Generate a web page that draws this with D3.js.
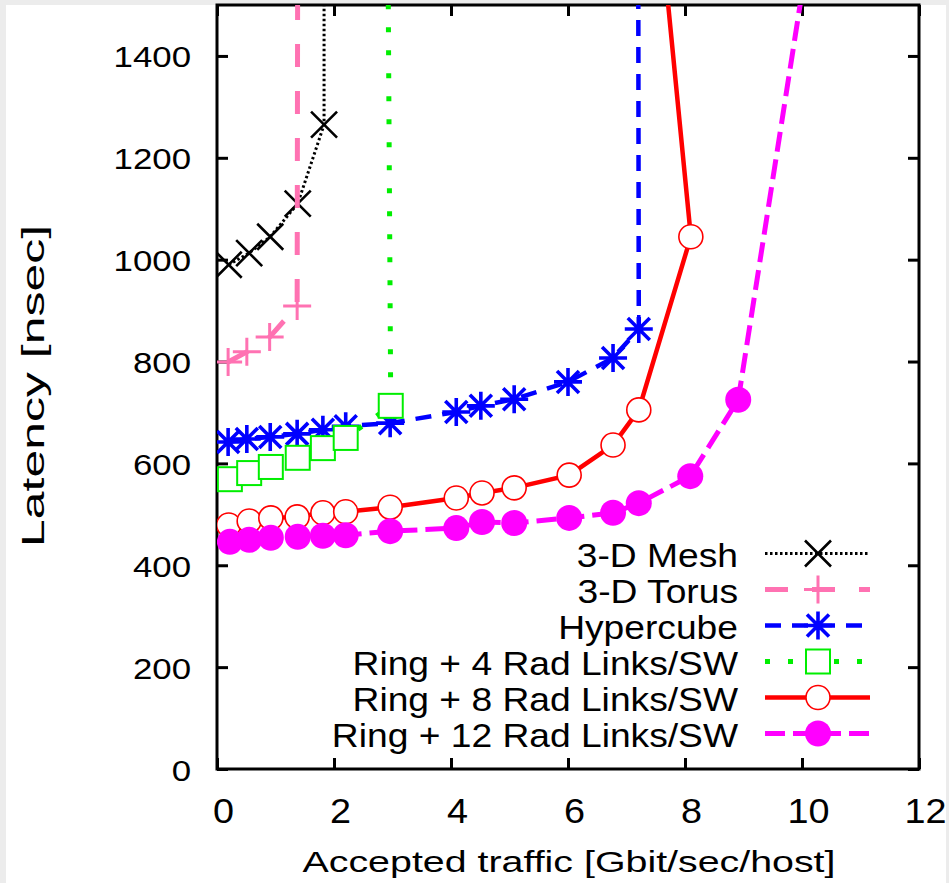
<!DOCTYPE html>
<html><head><meta charset="utf-8">
<script src="https://cdn.jsdelivr.net/npm/d3@7"></script>
<style>
html,body{margin:0;padding:0;background:#ececec;}
svg{display:block;}
text{font-family:"Liberation Sans",Arial,Helvetica,sans-serif;fill:#000;}
</style></head><body>
<svg id="chart" width="949" height="883"></svg>
<script>
// ---------- data ----------
const xTicks = [0, 2, 4, 6, 8, 10, 12];
const yTicks = [0, 200, 400, 600, 800, 1000, 1200, 1400];
const seriesNames = ["3-D Mesh", "3-D Torus", "Hypercube", "Ring + 4 Rad Links/SW", "Ring + 8 Rad Links/SW", "Ring + 12 Rad Links/SW"];

const meshX = [0.2, 0.55, 0.91, 1.38, 1.83, 1.83];
const meshY = [990, 1013, 1045, 1110, 1265, 1650];

const torusX = [0.19, 0.51, 0.9, 1.37, 1.38];
const torusY = [799, 819, 848, 909, 1650];

const hyperX = [0.19, 0.51, 0.91, 1.37, 1.81, 2.2, 2.96, 4.09, 4.51, 5.08, 6.0, 6.77, 7.21, 7.2];
const hyperY = [642, 648, 652, 658, 666, 673, 679, 701, 713, 726, 760, 807, 864, 1650];

const ring4X = [0.22, 0.55, 0.92, 1.38, 1.81, 2.2, 2.97, 2.92];
const ring4Y = [569, 581, 593, 611, 630, 650, 713, 1650];

const ring8X = [0.2, 0.55, 0.92, 1.37, 1.81, 2.2, 2.96, 4.09, 4.53, 5.08, 6.02, 6.77, 7.21, 8.1, 7.5];
const ring8Y = [479, 487, 493, 495, 503, 505, 514, 532, 542, 552, 577, 636, 705, 1045, 1750];

const ring12X = [0.22, 0.55, 0.92, 1.38, 1.81, 2.2, 2.96, 4.09, 4.53, 5.08, 6.02, 6.77, 7.21, 8.09, 8.91, 10.24];
const ring12Y = [446, 450, 454, 456, 458, 459, 467, 473, 485, 483, 493, 503, 522, 575, 725, 1700];

// ---------- layout ----------
const svg = d3.select("#chart");
const L = 217, R = 919, T = 5, B = 769;
const x = d3.scaleLinear().domain([0, 12]).range([L, R]);
const y = d3.scaleLinear().domain([0, 1500]).range([B, T]);

svg.append("rect").attr("x", 6).attr("y", 5).attr("width", 940).attr("height", 878).attr("fill", "#fff");

function stretch(sel, f) {
  sel.each(function () {
    const w = this.getComputedTextLength();
    this.setAttribute("textLength", w * f);
    this.setAttribute("lengthAdjust", "spacingAndGlyphs");
  });
}

// axes
const gx = svg.append("g").attr("transform", `translate(0,${B})`)
  .call(d3.axisBottom(x).tickValues(xTicks).tickSizeInner(-11).tickSizeOuter(0).tickFormat(d3.format("d")));
gx.selectAll("text").attr("y", 0).attr("x", 6).attr("dy", 54).style("font-size", "35px").attr("text-anchor", "middle");
const gy = svg.append("g").attr("transform", `translate(${L},0)`)
  .call(d3.axisLeft(y).tickValues(yTicks).tickSizeInner(-11).tickSizeOuter(0).tickFormat(d3.format("d")));
gy.selectAll("text").attr("x", -26).attr("dy", 11).style("font-size", "29px").attr("text-anchor", "end");
svg.append("g").attr("transform", `translate(0,${T})`)
  .call(d3.axisTop(x).tickValues(xTicks).tickSizeInner(-11).tickSizeOuter(0).tickFormat(""));
svg.append("g").attr("transform", `translate(${R},0)`)
  .call(d3.axisRight(y).tickValues(yTicks).tickSizeInner(-11).tickSizeOuter(0).tickFormat(""));
svg.selectAll(".domain").remove();
svg.selectAll(".tick line").attr("stroke", "#000").attr("stroke-width", 3);
stretch(gy.selectAll("text"), 1.2);
stretch(gx.selectAll("text"), 1.08);

svg.append("rect").attr("x", L).attr("y", T).attr("width", R - L).attr("height", B - T)
  .attr("fill", "none").attr("stroke", "#000").attr("stroke-width", 3);

// axis titles
svg.append("text").attr("x", (L + R) / 2 + 1).attr("y", 872).attr("text-anchor", "middle")
  .style("font-size", "30px").text("Accepted traffic [Gbit/sec/host]")
  .attr("textLength", 533).attr("lengthAdjust", "spacingAndGlyphs");
svg.append("text").attr("transform", "translate(44,386) rotate(-90)").attr("text-anchor", "middle")
  .style("font-size", "32px").text("Latency [nsec]")
  .attr("textLength", 322).attr("lengthAdjust", "spacingAndGlyphs");

// ---------- series ----------
const styles = [
  {xs: meshX, ys: meshY, color: "#000", width: 3, dash: "2.5,2.5", marker: "x"},
  {xs: torusX, ys: torusY, color: "#ff72b2", width: 5, dash: "23,24", marker: "+"},
  {xs: hyperX, ys: hyperY, color: "#0000ff", width: 4.5, dash: "16,11", marker: "*"},
  {xs: ring4X, ys: ring4Y, color: "#00ee00", width: 5, dash: "5,18", marker: "sq"},
  {xs: ring8X, ys: ring8Y, color: "#ff0000", width: 4.5, dash: null, marker: "o"},
  {xs: ring12X, ys: ring12Y, color: "#ff00ff", width: 5, dash: "20,8", marker: "fo"}
];

svg.append("clipPath").attr("id", "clip").append("rect")
  .attr("x", L).attr("y", T).attr("width", R - L).attr("height", B - T);

function marker(g, type, color) {
  if (type === "x") {
    g.append("path").attr("d", "M-13,-13L13,13M-13,13L13,-13").attr("stroke", color).attr("stroke-width", 2.6).attr("fill", "none");
  } else if (type === "+") {
    g.append("path").attr("d", "M-14,0H14M0,-14V14").attr("stroke", color).attr("stroke-width", 3).attr("fill", "none");
  } else if (type === "*") {
    g.append("path").attr("d", "M-14,0H14M0,-14V14M-11,-11L11,11M-11,11L11,-11").attr("stroke", color).attr("stroke-width", 3.6).attr("fill", "none");
  } else if (type === "sq") {
    g.append("rect").attr("x", -12).attr("y", -12).attr("width", 24).attr("height", 24)
      .attr("fill", "#fff").attr("stroke", color).attr("stroke-width", 2);
  } else if (type === "o") {
    g.append("circle").attr("r", 12).attr("fill", "#fff").attr("stroke", color).attr("stroke-width", 1.6);
  } else if (type === "fo") {
    g.append("circle").attr("r", 13).attr("fill", color);
  }
}

const plot = svg.append("g").attr("clip-path", "url(#clip)");
const line = d3.line().x(d => x(d[0])).y(d => y(d[1]));
styles.forEach(s => {
  const pts = s.xs.map((v, i) => [v, s.ys[i]]);
  const p = plot.append("path").datum(pts).attr("d", line).attr("fill", "none")
    .attr("stroke", s.color).attr("stroke-width", s.width);
  if (s.dash) p.attr("stroke-dasharray", s.dash);
  pts.forEach(d => {
    const g = plot.append("g").attr("transform", `translate(${x(d[0])},${y(d[1])})`);
    marker(g, s.marker, s.color);
  });
});

// ---------- legend ----------
styles.forEach((s, i) => {
  const cy = 553.5 + i * 36;
  const t = svg.append("text").attr("x", 738).attr("y", cy + 13).attr("text-anchor", "end")
    .style("font-size", "33.5px").text(seriesNames[i]);
  stretch(t, 1.11);
  const p = svg.append("path").attr("d", `M765,${cy}H870`).attr("fill", "none")
    .attr("stroke", s.color).attr("stroke-width", s.width);
  if (s.dash) p.attr("stroke-dasharray", s.dash);
  const g = svg.append("g").attr("transform", `translate(818,${cy})`);
  marker(g, s.marker, s.color);
});
</script>
</body></html>
